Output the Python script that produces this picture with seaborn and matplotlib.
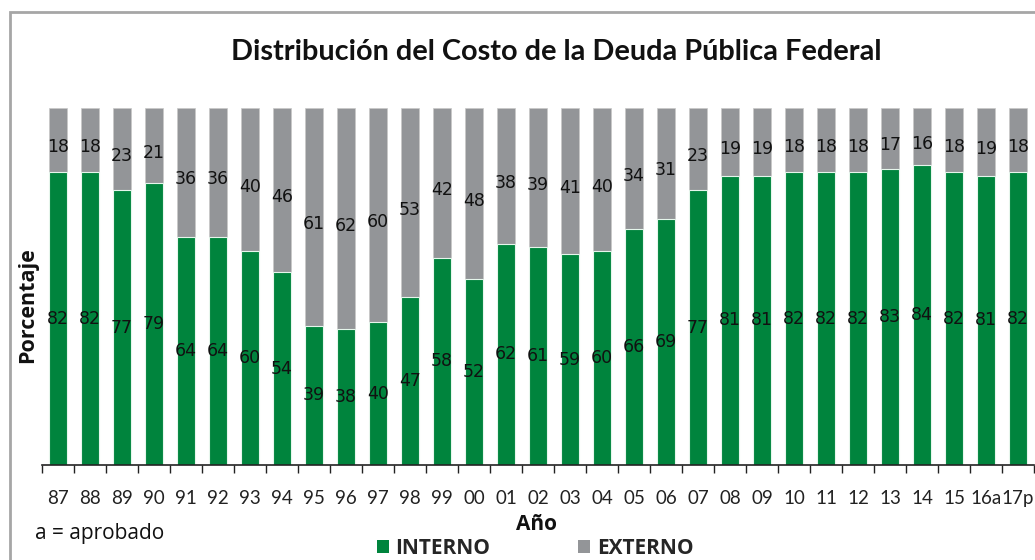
import matplotlib
matplotlib.use("Agg")
import matplotlib.pyplot as plt
import seaborn as sns
import pandas as pd
from matplotlib.patches import Patch, Rectangle

anios = ["87", "88", "89", "90", "91", "92", "93", "94", "95", "96", "97", "98", "99",
         "00", "01", "02", "03", "04", "05", "06", "07", "08", "09", "10", "11", "12",
         "13", "14", "15", "16a", "17p"]
interno = [82, 82, 77, 79, 64, 64, 60, 54, 39, 38, 40, 47, 58, 52, 62, 61, 59, 60,
           66, 69, 77, 81, 81, 82, 82, 82, 83, 84, 82, 81, 82]
externo = [18, 18, 23, 21, 36, 36, 40, 46, 61, 62, 60, 53, 42, 48, 38, 39, 41, 40,
           34, 31, 23, 19, 19, 18, 18, 18, 17, 16, 18, 19, 18]

VERDE = "#00843d"
GRIS = "#939598"

sns.set_theme(style="white")
plt.rcParams["font.family"] = ["DejaVu Sans"]

df = pd.DataFrame({"anio": anios, "interno": interno, "externo": externo})
df["total"] = df["interno"] + df["externo"]

W, H = 1035, 560
fig = plt.figure(figsize=(W / 100, H / 100), dpi=100)
ax = fig.add_axes([42 / W, 1 - 465 / H, 992 / W, (465 - 108) / H])

sns.barplot(data=df, x="anio", y="total", color=GRIS, width=0.56, ax=ax,
            saturation=1, edgecolor="#c8c8c8", linewidth=0.5)
sns.barplot(data=df, x="anio", y="interno", color=VERDE, width=0.56, ax=ax,
            saturation=1, edgecolor="#e6f6ec", linewidth=0.8)

for i, (a, b) in enumerate(zip(interno, externo)):
    ax.text(i, a / 2, f"{a}", ha="center", va="center", fontsize=12.5, color="#111111")
    ax.text(i, a + b / 2 - 2, f"{b}", ha="center", va="center", fontsize=12.5, color="#111111")

ax.set_xlim(-0.5, 30.5)
ax.set_ylim(0, 100)
ax.set_yticks([])
ax.set_xlabel("")
ax.set_ylabel("")
for s in ["top", "right", "left"]:
    ax.spines[s].set_visible(False)
ax.spines["bottom"].set_color("#222222")
ax.spines["bottom"].set_linewidth(1.2)
ax.set_xticks(range(len(anios)))
ax.set_xticklabels(anios, fontfamily="Lato", fontsize=13.5, color="#222222")
ax.set_xticks([k + 0.5 for k in range(-1, len(anios))], minor=True)
ax.tick_params(axis="x", which="major", length=0, pad=18)
ax.tick_params(axis="x", which="minor", length=6, width=1, color="#222222", bottom=True)

fig.text(556 / W, 1 - 52 / H, "Distribución del Costo de la Deuda Pública Federal",
         ha="center", va="center", fontsize=20.8, fontweight="bold",
         fontfamily="Lato", color="#111111")
fig.text(28 / W, 1 - 305 / H, "Porcentaje", rotation=90, ha="center", va="center",
         fontsize=15.5, fontweight="bold", fontfamily="Open Sans", color="#111111")
fig.text(536 / W, 1 - 525 / H, "Año", ha="center", va="center",
         fontsize=15, fontweight="bold", fontfamily="Open Sans", color="#111111")
fig.text(35 / W, 1 - 533 / H, "a = aprobado", ha="left", va="center",
         fontsize=15, fontfamily="Open Sans", color="#111111")

handles = [Patch(facecolor=VERDE, edgecolor="none", label="INTERNO"),
           Patch(facecolor=GRIS, edgecolor="none", label="EXTERNO")]
fig.legend(handles=handles, loc="center", bbox_to_anchor=(535 / W, 1 - 548 / H),
           ncol=2, frameon=False, handlelength=0.6, handleheight=0.6,
           handletextpad=0.3, columnspacing=4.2,
           prop={"family": "Open Sans", "weight": "bold", "size": 15})

fig.patches.append(Rectangle((10 / W, -0.05), 1.2, 1 - 12 / H + 0.05,
                             transform=fig.transFigure, fill=False,
                             edgecolor="#a6a6a6", linewidth=2))

fig.savefig("out.png", dpi=100)
